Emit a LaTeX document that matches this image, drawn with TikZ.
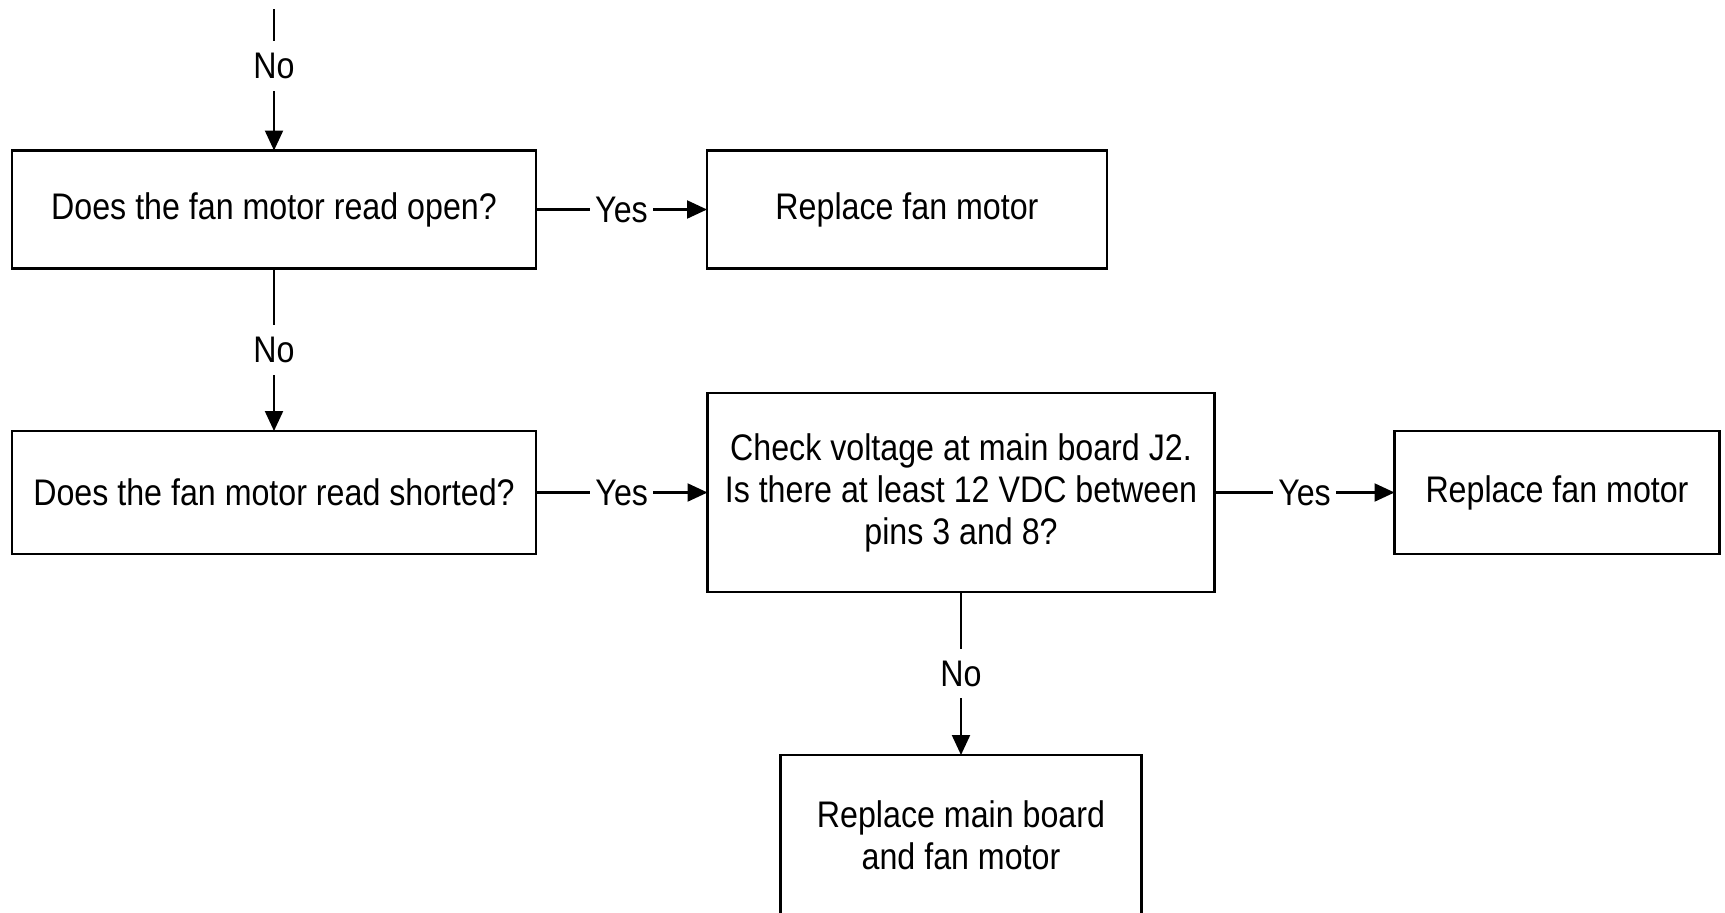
\documentclass[tikz,border=0pt]{standalone}
\usepackage{fontspec}
\newfontfamily\diagfont[FakeStretch=0.87]{Liberation Sans}
\usetikzlibrary{arrows.meta}

\begin{document}
\begin{tikzpicture}[x=1pt,y=-1pt,
  box/.style={draw, line width=2.6pt, inner sep=0pt, outer sep=0pt,
    align=center, font=\diagfont\fontsize{37}{42}\selectfont},
  link/.style={line width=2.2pt, -{Triangle[length=20pt,width=18pt]}},
  lbl/.style={fill=white, inner xsep=5pt, inner ysep=12pt,
    font=\diagfont\fontsize{37}{42}\selectfont}
]
\useasboundingbox (0,0) rectangle (1725,913);
\clip (0,0) rectangle (1725,913);

% decision and action boxes
\node[box, minimum width=524pt, minimum height=118pt] (open) at (274,209.5)
  {Does the fan motor read open?};
\node[box, minimum width=400pt, minimum height=118pt] (repA) at (907,209.5)
  {Replace fan motor};
\node[box, minimum width=524pt, minimum height=123pt] (short) at (274,492.5)
  {Does the fan motor read shorted?};
\node[box, minimum width=507pt, minimum height=199pt] (volt) at (961,492.5)
  {Check voltage at main board J2.\\Is there at least 12 VDC between\\pins 3 and 8?};
\node[box, minimum width=325pt, minimum height=123pt] (repB) at (1557,492.5)
  {Replace fan motor};
\node[box, minimum width=361pt, minimum height=160pt] (board) at (961,835)
  {Replace main board\\and fan motor};

% incoming branch from the previous step
\coordinate (entry) at (274,9);

% connectors
\draw[link] (entry) -- node[lbl, pos=0.4] {No} (open);
\draw[link] (open) -- node[lbl] {Yes} (repA);
\draw[link] (open) -- node[lbl] {No} (short);
\draw[link] (short) -- node[lbl] {Yes} (volt);
\draw[link] (volt) -- node[lbl] {Yes} (repB);
\draw[link] (volt) -- node[lbl] {No} (board);
\end{tikzpicture}
\end{document}
